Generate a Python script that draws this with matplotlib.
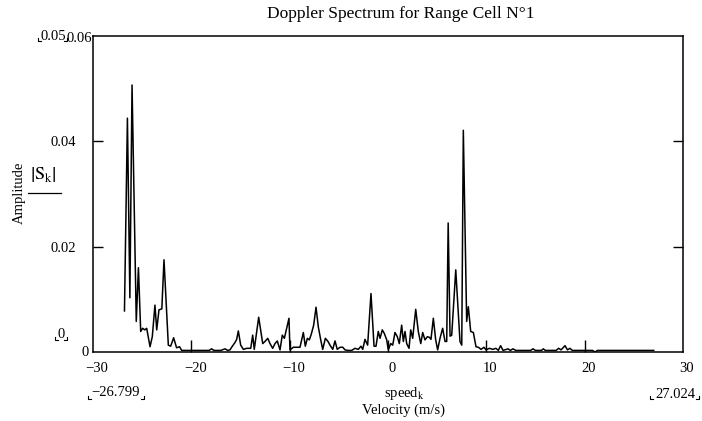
import matplotlib
matplotlib.use("Agg")
import matplotlib.pyplot as plt
import matplotlib.transforms as mtransforms
from matplotlib.lines import Line2D

plt.rcParams['font.family'] = ['Liberation Serif', 'DejaVu Serif']
plt.rcParams['mathtext.fontset'] = 'stix'

# doppler spectrum |S_k|: (velocity m/s, amplitude)
velocity = [
    -26.80, -26.50, -26.25, -26.03, -25.60, -25.38, -25.15, -24.95, -24.74, -24.54,
    -24.20, -23.97, -23.70, -23.52, -23.29, -23.00, -22.78, -22.34, -22.10, -21.80,
    -21.50, -21.20, -20.98, -20.00, -19.00, -18.20, -17.93, -17.70, -17.00, -16.58,
    -16.30, -16.07, -15.83, -15.56, -15.39, -15.22, -14.98, -14.71, -14.37, -13.96,
    -13.76, -13.60, -13.15, -12.74, -12.51, -12.23, -12.00, -11.73, -11.49, -11.26,
    -10.98, -10.75, -10.54, -10.30, -10.07, -9.97, -9.63, -9.29, -8.95, -8.61,
    -8.41, -8.20, -8.00, -7.80, -7.56, -7.32, -7.09, -6.84, -6.64, -6.37,
    -6.10, -5.90, -5.62, -5.39, -5.16, -4.88, -4.60, -4.37, -4.04, -3.69,
    -3.36, -3.02, -2.75, -2.57, -2.34, -2.07, -1.73, -1.42, -1.22, -0.99,
    -0.81, -0.58, -0.37, -0.13, 0.03, 0.27, 0.48, 0.71, 0.95, 1.15,
    1.39, 1.56, 1.73, 1.90, 2.14, 2.31, 2.51, 2.82, 3.08, 3.33,
    3.53, 3.76, 4.00, 4.20, 4.37, 4.61, 4.85, 5.05, 5.29, 5.56,
    5.80, 5.97, 6.12, 6.31, 6.48, 6.89, 7.32, 7.50, 7.66, 8.00,
    8.17, 8.41, 8.68, 8.95, 9.19, 9.46, 9.76, 9.97, 10.30, 10.65,
    10.98, 11.22, 11.45, 11.70, 12.20, 12.45, 12.70, 13.00, 14.50, 14.75,
    15.00, 15.60, 15.80, 16.00, 17.10, 17.35, 17.60, 18.00, 18.25, 18.50,
    18.75, 20.80, 21.05, 21.30, 27.024,
]
amplitude = [
    0.0078, 0.0444, 0.0103, 0.0507, 0.0058, 0.0160, 0.0039, 0.0045, 0.0042, 0.0045,
    0.0010, 0.0029, 0.0089, 0.0042, 0.0080, 0.0082, 0.0175, 0.0013, 0.0011, 0.0027,
    0.0008, 0.0010, 0.0003, 0.0003, 0.0003, 0.0003, 0.0006, 0.0003, 0.0003, 0.0006,
    0.0003, 0.0004, 0.0011, 0.0018, 0.0024, 0.0040, 0.0013, 0.0005, 0.0007, 0.0007,
    0.0032, 0.0005, 0.0066, 0.0016, 0.0020, 0.0026, 0.0016, 0.0007, 0.0016, 0.0021,
    0.0004, 0.0032, 0.0026, 0.0045, 0.0064, 0.0004, 0.0009, 0.0009, 0.0009, 0.0037,
    0.0011, 0.0026, 0.0023, 0.0034, 0.0051, 0.0085, 0.0048, 0.0023, 0.0005, 0.0026,
    0.0020, 0.0013, 0.0005, 0.0021, 0.0005, 0.0009, 0.0009, 0.0004, 0.0003, 0.0003,
    0.0007, 0.0005, 0.0011, 0.0005, 0.0024, 0.0013, 0.0111, 0.0011, 0.0011, 0.0039,
    0.0026, 0.0042, 0.0035, 0.0023, 0.0004, 0.0016, 0.0013, 0.0037, 0.0029, 0.0016,
    0.0051, 0.0020, 0.0039, 0.0016, 0.0007, 0.0042, 0.0026, 0.0081, 0.0039, 0.0016,
    0.0037, 0.0023, 0.0029, 0.0028, 0.0024, 0.0064, 0.0023, 0.0004, 0.0026, 0.0045,
    0.0020, 0.0020, 0.0245, 0.0030, 0.0032, 0.0156, 0.0020, 0.0013, 0.0421, 0.0058,
    0.0086, 0.0039, 0.0037, 0.0010, 0.0009, 0.0005, 0.0009, 0.0004, 0.0007, 0.0005,
    0.0007, 0.0003, 0.0012, 0.0003, 0.0006, 0.0003, 0.0006, 0.0003, 0.0003, 0.0006,
    0.0003, 0.0003, 0.0006, 0.0003, 0.0003, 0.0007, 0.0004, 0.0012, 0.0004, 0.0007,
    0.0003, 0.0003, 0.0000, 0.0003, 0.0003,
]

x_ticks = [-30, -20, -10, 0, 10, 20, 30]
x_labels = ['\u221230', '\u221220', '\u221210', '0', '10', '20', '30']
y_ticks = [0.02, 0.04]
y_labels = ['0.02', '0.04']

fig = plt.figure(figsize=(7.02, 4.21), dpi=100)
ax = fig.add_axes([93 / 702, 69 / 421, 590 / 702, 316 / 421])

ax.plot(velocity, amplitude, color='black', lw=1.1)
ax.set_xlim(-30, 30)
ax.set_ylim(0, 0.06)

ax.set_xticks(x_ticks)
ax.set_xticklabels(x_labels)
ax.set_yticks(y_ticks)
ax.set_yticklabels(y_labels)
ax.tick_params(axis='x', direction='in', length=9, width=1, pad=7, labelsize=10.5)
ax.tick_params(axis='y', direction='in', length=7.5, width=1, pad=12, labelsize=10.5,
               right=True)
# mathcad puts the x numbers a few pixels to the right of the ticks
shift = mtransforms.ScaledTranslation(4 / 100, 0, fig.dpi_scale_trans)
for lab in ax.get_xticklabels():
    lab.set_transform(lab.get_transform() + shift)
# hide the tick marks sitting on the corners
for t in ax.xaxis.get_major_ticks()[::6]:
    t.tick1line.set_visible(False)
for s in ax.spines.values():
    s.set_linewidth(1.1)

def px(x, y):
    return x / 702, 1 - y / 421

# extra corner labels as mathcad puts them
fig.text(*px(92, 38), '0.06', ha='right', va='center', fontsize=10.5)
fig.text(*px(89, 353), '0', ha='right', va='center', fontsize=10.5)
fig.text(*px(53, 36), '0.05', ha='center', va='center', fontsize=10.5)
fig.text(*px(61, 334), '0', ha='center', va='center', fontsize=10.5)
fig.text(*px(116, 393), '\u221226.799', ha='center', va='center', fontsize=10.5)
fig.text(*px(675, 394), '27.024', ha='center', va='center', fontsize=10.5)
fig.text(*px(404, 393), r'speed$_{\mathrm{k}}$', ha='center', va='center', fontsize=10.5)
fig.text(*px(404, 410), 'Velocity (m/s)', ha='center', va='center', fontsize=10.5)
fig.text(*px(401, 14), 'Doppler Spectrum for Range Cell N\u00b01', ha='center',
         va='center', fontsize=12.5)
fig.text(*px(19, 193), 'Amplitude', rotation=90, ha='center', va='center', fontsize=10.5)
fig.text(*px(43, 174), r'$\left|\mathrm{S}_{\mathrm{k}}\right|$', ha='center',
         va='center', fontsize=13)
fig.add_artist(Line2D([28 / 702, 61 / 702], [1 - 193 / 421, 1 - 193 / 421],
                      color='black', lw=0.9))

# little placeholder corner brackets
corners = [(38, 41, 'L'), (67, 41, 'R'), (55, 340, 'L'), (67, 340, 'R'),
           (88, 399, 'L'), (144, 399, 'R'), (650, 399, 'L'), (699, 399, 'R')]
for cx, cy, side in corners:
    dx = 3 if side == 'L' else -3
    fig.add_artist(Line2D([cx / 702, cx / 702, (cx + dx) / 702],
                          [1 - (cy - 3) / 421, 1 - cy / 421, 1 - cy / 421],
                          color='black', lw=0.8))

fig.savefig('out.png', dpi=100)
